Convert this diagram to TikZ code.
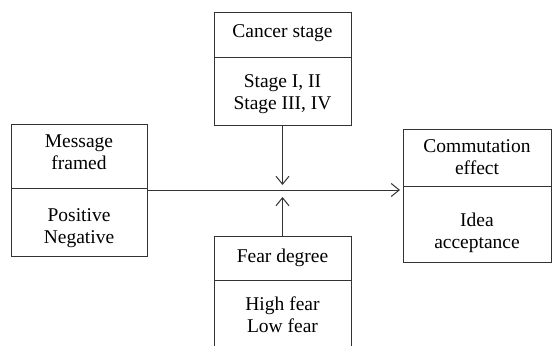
\documentclass[tikz,border=0pt]{standalone}
\usepackage{fontspec}
\setmainfont{Liberation Serif}
\usetikzlibrary{positioning}
\usetikzlibrary{arrows.meta}

\newcommand{\toppad}[1]{\rule{0pt}{#1}}

\begin{document}
\begin{tikzpicture}[x=1pt,y=-1pt,
  box/.style={draw=black!80, line width=1pt, outer sep=0pt, inner sep=2pt,
    align=center, font=\fontsize{19.5}{22}\selectfont},
  head/.style={box, anchor=north west},
  body/.style={box, below=0pt of #1},
  lift/.style={execute at end node={\rule[-#1]{0pt}{#1}}},
  link/.style={draw=black!80, line width=1pt,
    -{Straight Barb[length=8pt,width=13pt,line width=1pt]}}]

  \useasboundingbox (0,0) rectangle (553,345);

  % left box
  \node[head, lift=8.4pt, minimum width=136pt, minimum height=64pt] (msg)
    at (11,124) {Message\\framed};
  \node[body=msg, minimum width=136pt, minimum height=68pt] (msgval)
    {\toppad{26pt}Positive\\Negative};

  % top box
  \node[head, lift=8.9pt, minimum width=137pt, minimum height=44pt] (stage)
    at (214,13) {Cancer stage};
  \node[body=stage, minimum width=137pt, minimum height=68pt] (stageval)
    {\toppad{20pt}Stage I, II\\Stage III, IV};

  % bottom box, cut off by the page
  \node[head, minimum width=137pt, minimum height=44pt] (fear)
    at (214,236) {Fear degree};
  \node[body=fear, minimum width=137pt, minimum height=70pt] (fearval)
    {High fear\\Low fear};

  % right box
  \node[head, minimum width=148pt, minimum height=57pt] (comm)
    at (403,129) {Commutation\\effect};
  \node[body=comm, minimum width=148pt, minimum height=76pt] (commval)
    {\toppad{32pt}Idea\\acceptance};

  \coordinate (mid) at (282.5,190);

  \draw[link] (msgval.north east |- mid) -- ([xshift=-3pt]commval.west |- mid);
  \draw[link] (stageval.south) -- ([yshift=5pt]stageval.south |- mid);
  \draw[link] (fear.north) -- ([yshift=-7pt]fear.north |- mid);

\end{tikzpicture}
\end{document}
